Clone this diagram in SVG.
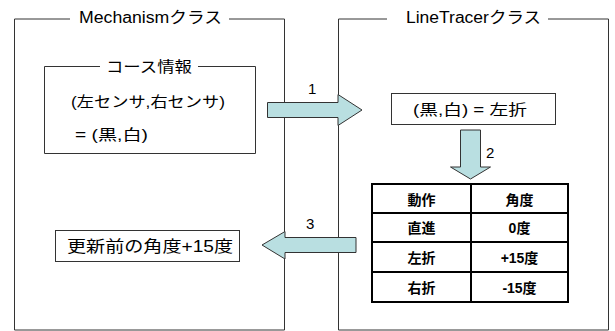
<svg xmlns="http://www.w3.org/2000/svg" width="615" height="331" viewBox="0 0 615 331">
<style>
  .frame{fill:none;stroke:#333;stroke-width:1}
  .box{fill:#fff;stroke:#333;stroke-width:1}
  .arrow{fill:#b9dfe1;stroke:#333;stroke-width:1;stroke-linejoin:miter}
  .t{font-family:"Liberation Sans","Noto Sans CJK JP",sans-serif;fill:#000}
  .tb{font-family:"Liberation Sans","Noto Sans CJK JP",sans-serif;font-weight:bold;fill:#000;font-size:14px;text-anchor:middle}
  .grid{stroke:#000;stroke-width:2;fill:none}
</style>
<rect width="615" height="331" fill="#fff"/>

<g id="mechanism">
  <path class="frame" d="M70,19 H14.5 V330 H284.5 V19 H229"/>
  <text class="t" x="79" y="23" font-size="16" textLength="143" lengthAdjust="spacingAndGlyphs">Mechanismクラス</text>
</g>

<g id="linetracer">
  <path class="frame" d="M387,19 H338.5 V330 H608.5 V19 H548"/>
  <text class="t" x="406" y="23" font-size="16" textLength="135" lengthAdjust="spacingAndGlyphs">LineTracerクラス</text>
</g>

<g id="course-info">
  <path class="box" d="M100,66.5 H44.5 V153.5 H255.5 V66.5 H198" fill="none"/>
  <text class="t" x="106" y="72" font-size="15" textLength="86" lengthAdjust="spacingAndGlyphs">コース情報</text>
  <text class="t" x="71" y="107" font-size="15" textLength="154" lengthAdjust="spacingAndGlyphs">(左センサ,右センサ)</text>
  <text class="t" x="75" y="140" font-size="15" textLength="73" lengthAdjust="spacingAndGlyphs">= (黒,白)</text>
</g>

<g id="judge">
  <rect class="box" x="391.5" y="93.5" width="164" height="31"/>
  <text class="t" x="413" y="115" font-size="15" textLength="114" lengthAdjust="spacingAndGlyphs">(黒,白) = 左折</text>
</g>

<g id="table">
  <rect x="372" y="184" width="196" height="118" fill="#fff" class="grid"/>
  <line class="grid" x1="471" y1="184" x2="471" y2="302"/>
  <line class="grid" x1="372" y1="213" x2="568" y2="213"/>
  <line class="grid" x1="372" y1="242" x2="568" y2="242"/>
  <line class="grid" x1="372" y1="272" x2="568" y2="272"/>
  <text class="tb" x="421.5" y="205">動作</text>
  <text class="tb" x="519.5" y="205">角度</text>
  <text class="tb" x="421.5" y="233">直進</text>
  <text class="tb" x="519.5" y="233">0度</text>
  <text class="tb" x="421.5" y="263">左折</text>
  <text class="tb" x="519.5" y="263">+15度</text>
  <text class="tb" x="421.5" y="293">右折</text>
  <text class="tb" x="519.5" y="293">-15度</text>
</g>

<g id="result">
  <rect class="box" x="55.5" y="230.5" width="184" height="31"/>
  <text class="t" x="67" y="252" font-size="16" textLength="166" lengthAdjust="spacingAndGlyphs">更新前の角度+15度</text>
</g>

<g id="connectors">
  <polygon class="arrow" points="267.5,102.5 338,102.5 338,94.5 362,110 338,125.5 338,117.5 267.5,117.5"/>
  <text class="t" x="308" y="93.5" font-size="15">1</text>
  <polygon class="arrow" points="460.5,130 480.5,130 480.5,167 490.5,167 470.5,179 450.5,167 460.5,167"/>
  <text class="t" x="486" y="157.5" font-size="15">2</text>
  <polygon class="arrow" points="356,237.5 285,237.5 285,231.5 262,245 285,259 285,252.5 356,252.5"/>
  <text class="t" x="306" y="228.5" font-size="15">3</text>
</g>
</svg>
